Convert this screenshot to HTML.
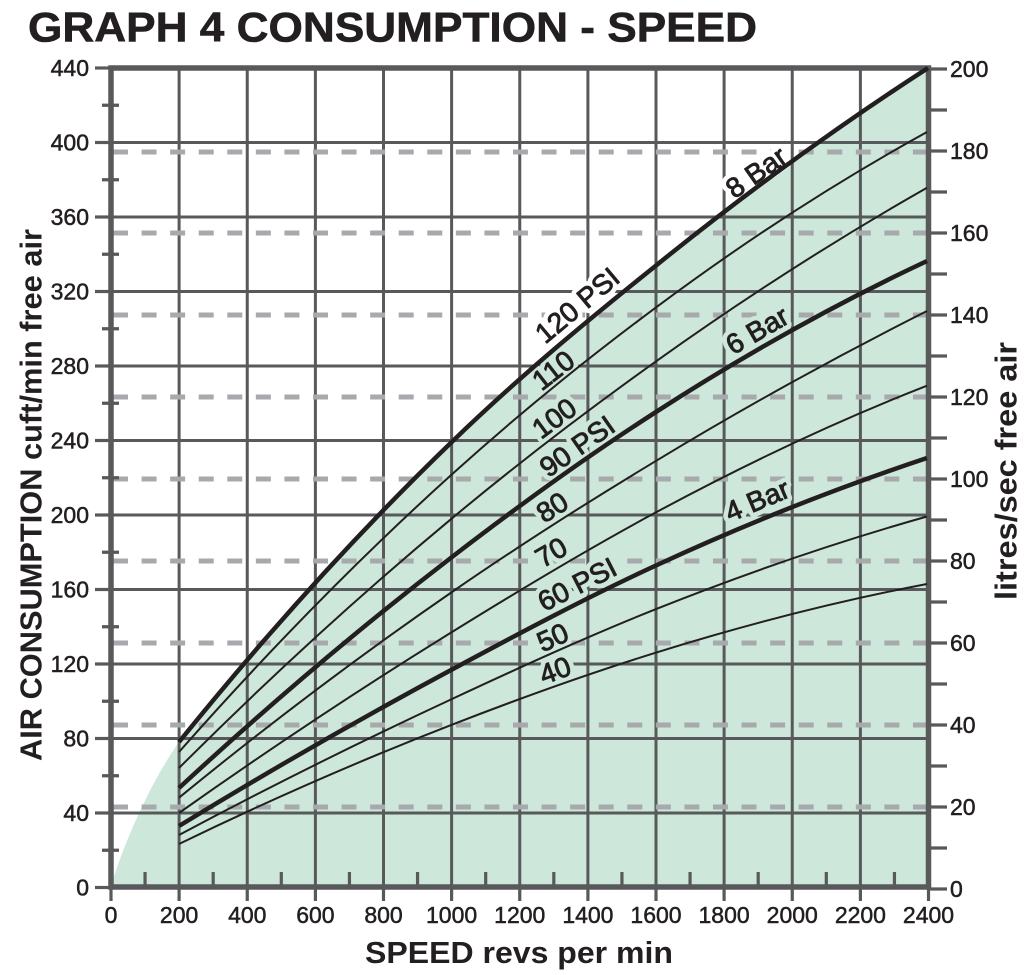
<!DOCTYPE html>
<html>
<head>
<meta charset="utf-8">
<style>
  html,body{margin:0;padding:0;background:#fff;}
  svg{display:block;}
  text{font-family:"Liberation Sans",Arial,sans-serif;fill:#231f20;}
</style>
</head>
<body>
<svg width="1029" height="975" viewBox="0 0 1029 975" xmlns="http://www.w3.org/2000/svg">
  <!-- Title -->
  <text x="28" y="41.7" font-size="42" font-weight="bold" textLength="729" lengthAdjust="spacingAndGlyphs" stroke="#231f20" stroke-width="0.6">GRAPH 4 CONSUMPTION - SPEED</text>

  <!-- Green fill -->
  <path d="M111,887 C118,860 145,790 179,742 C270,629.46 361,529.36 452,441.7 C520.33,375.64 588.67,319.58 657,264.7 C747.33,191.88 837.67,126.33 928.5,68 L928.5,887 Z" fill="#cde7da"/>

  <!-- Grid lines -->
  <g stroke="#58595b" stroke-width="3" fill="none">
    <line x1="111" x2="928.5" y1="813" y2="813"/>
    <line x1="111" x2="928.5" y1="738.5" y2="738.5"/>
    <line x1="111" x2="928.5" y1="664" y2="664"/>
    <line x1="111" x2="928.5" y1="589.5" y2="589.5"/>
    <line x1="111" x2="928.5" y1="515" y2="515"/>
    <line x1="111" x2="928.5" y1="440.5" y2="440.5"/>
    <line x1="111" x2="928.5" y1="366" y2="366"/>
    <line x1="111" x2="928.5" y1="291.5" y2="291.5"/>
    <line x1="111" x2="928.5" y1="217" y2="217"/>
    <line x1="111" x2="928.5" y1="142.5" y2="142.5"/>
    <line y1="68" y2="887" x1="179.1" x2="179.1"/>
    <line y1="68" y2="887" x1="247.25" x2="247.25"/>
    <line y1="68" y2="887" x1="315.4" x2="315.4"/>
    <line y1="68" y2="887" x1="383.5" x2="383.5"/>
    <line y1="68" y2="887" x1="451.6" x2="451.6"/>
    <line y1="68" y2="887" x1="519.75" x2="519.75"/>
    <line y1="68" y2="887" x1="587.9" x2="587.9"/>
    <line y1="68" y2="887" x1="656" x2="656"/>
    <line y1="68" y2="887" x1="724.1" x2="724.1"/>
    <line y1="68" y2="887" x1="792.25" x2="792.25"/>
    <line y1="68" y2="887" x1="860.4" x2="860.4"/>
  </g>

  <!-- Dashed litres/sec lines -->
  <g stroke="#a7a9ac" stroke-width="5" stroke-dasharray="15 13.57" fill="none">
    <line x1="113" x2="927" y1="807" y2="807"/>
    <line x1="113" x2="927" y1="725" y2="725"/>
    <line x1="113" x2="927" y1="643" y2="643"/>
    <line x1="113" x2="927" y1="561" y2="561"/>
    <line x1="113" x2="927" y1="479" y2="479"/>
    <line x1="113" x2="927" y1="397" y2="397"/>
    <line x1="113" x2="927" y1="315" y2="315"/>
    <line x1="113" x2="927" y1="233" y2="233"/>
    <line x1="113" x2="927" y1="152" y2="152"/>
  </g>

  <!-- Ticks -->
  <g stroke="#58595b" stroke-width="3.2" fill="none">
    <line x1="95" x2="111" y1="887.5" y2="887.5"/>
    <line x1="95" x2="111" y1="813" y2="813"/>
    <line x1="95" x2="111" y1="738.5" y2="738.5"/>
    <line x1="95" x2="111" y1="664" y2="664"/>
    <line x1="95" x2="111" y1="589.5" y2="589.5"/>
    <line x1="95" x2="111" y1="515" y2="515"/>
    <line x1="95" x2="111" y1="440.5" y2="440.5"/>
    <line x1="95" x2="111" y1="366" y2="366"/>
    <line x1="95" x2="111" y1="291.5" y2="291.5"/>
    <line x1="95" x2="111" y1="217" y2="217"/>
    <line x1="95" x2="111" y1="142.5" y2="142.5"/>
    <line x1="95" x2="111" y1="68" y2="68"/>
    <line x1="102" x2="119" y1="850.25" y2="850.25"/>
    <line x1="102" x2="119" y1="775.75" y2="775.75"/>
    <line x1="102" x2="119" y1="701.25" y2="701.25"/>
    <line x1="102" x2="119" y1="626.75" y2="626.75"/>
    <line x1="102" x2="119" y1="552.25" y2="552.25"/>
    <line x1="102" x2="119" y1="477.75" y2="477.75"/>
    <line x1="102" x2="119" y1="403.25" y2="403.25"/>
    <line x1="102" x2="119" y1="328.75" y2="328.75"/>
    <line x1="102" x2="119" y1="254.25" y2="254.25"/>
    <line x1="102" x2="119" y1="179.75" y2="179.75"/>
    <line x1="102" x2="119" y1="105.25" y2="105.25"/>
    <line y1="887" y2="901" x1="111" x2="111"/>
    <line y1="887" y2="901" x1="179.1" x2="179.1"/>
    <line y1="887" y2="901" x1="247.25" x2="247.25"/>
    <line y1="887" y2="901" x1="315.4" x2="315.4"/>
    <line y1="887" y2="901" x1="383.5" x2="383.5"/>
    <line y1="887" y2="901" x1="451.6" x2="451.6"/>
    <line y1="887" y2="901" x1="519.75" x2="519.75"/>
    <line y1="887" y2="901" x1="587.9" x2="587.9"/>
    <line y1="887" y2="901" x1="656" x2="656"/>
    <line y1="887" y2="901" x1="724.1" x2="724.1"/>
    <line y1="887" y2="901" x1="792.25" x2="792.25"/>
    <line y1="887" y2="901" x1="860.4" x2="860.4"/>
    <line y1="887" y2="901" x1="928.5" x2="928.5"/>
    <line y1="872" y2="887" x1="145.06" x2="145.06"/>
    <line y1="872" y2="887" x1="213.19" x2="213.19"/>
    <line y1="872" y2="887" x1="281.31" x2="281.31"/>
    <line y1="872" y2="887" x1="349.44" x2="349.44"/>
    <line y1="872" y2="887" x1="417.56" x2="417.56"/>
    <line y1="872" y2="887" x1="485.69" x2="485.69"/>
    <line y1="872" y2="887" x1="553.81" x2="553.81"/>
    <line y1="872" y2="887" x1="621.94" x2="621.94"/>
    <line y1="872" y2="887" x1="690.06" x2="690.06"/>
    <line y1="872" y2="887" x1="758.19" x2="758.19"/>
    <line y1="872" y2="887" x1="826.31" x2="826.31"/>
    <line y1="872" y2="887" x1="894.44" x2="894.44"/>
    <line x1="928.5" x2="947" y1="889" y2="889"/>
    <line x1="928.5" x2="947" y1="848" y2="848"/>
    <line x1="928.5" x2="947" y1="807" y2="807"/>
    <line x1="928.5" x2="947" y1="766" y2="766"/>
    <line x1="928.5" x2="947" y1="725" y2="725"/>
    <line x1="928.5" x2="947" y1="684" y2="684"/>
    <line x1="928.5" x2="947" y1="643" y2="643"/>
    <line x1="928.5" x2="947" y1="602" y2="602"/>
    <line x1="928.5" x2="947" y1="561" y2="561"/>
    <line x1="928.5" x2="947" y1="520" y2="520"/>
    <line x1="928.5" x2="947" y1="479" y2="479"/>
    <line x1="928.5" x2="947" y1="438" y2="438"/>
    <line x1="928.5" x2="947" y1="397" y2="397"/>
    <line x1="928.5" x2="947" y1="356" y2="356"/>
    <line x1="928.5" x2="947" y1="315" y2="315"/>
    <line x1="928.5" x2="947" y1="274" y2="274"/>
    <line x1="928.5" x2="947" y1="233" y2="233"/>
    <line x1="928.5" x2="947" y1="192" y2="192"/>
    <line x1="928.5" x2="947" y1="151" y2="151"/>
    <line x1="928.5" x2="947" y1="110" y2="110"/>
    <line x1="928.5" x2="947" y1="69" y2="69"/>
  </g>

  <!-- Frame -->
  <rect x="111" y="68" width="817.5" height="819" fill="none" stroke="#58595b" stroke-width="5.5"/>

  <!-- Curve label halos -->
  <g font-size="28" text-anchor="middle" stroke-linejoin="round">
    <g stroke="#ffffff" stroke-width="10" fill="#ffffff">
      <text transform="translate(577,305) rotate(-40)" y="10">120 PSI</text>
      <text transform="translate(756,172) rotate(-35)" y="10">8 Bar</text>
    </g>
    <g stroke="#cde7da" stroke-width="10" fill="#cde7da">
      <text transform="translate(553,370) rotate(-38)" y="10">110</text>
      <text transform="translate(554,418) rotate(-36.5)" y="10">100</text>
      <text transform="translate(577,446) rotate(-35)" y="10">90 PSI</text>
      <text transform="translate(552,507) rotate(-32.5)" y="10">80</text>
      <text transform="translate(551,552) rotate(-30)" y="10">70</text>
      <text transform="translate(577,584) rotate(-27)" y="10">60 PSI</text>
      <text transform="translate(552.5,637) rotate(-24)" y="10">50</text>
      <text transform="translate(555,670) rotate(-20)" y="10">40</text>
      <text transform="translate(757,330) rotate(-30)" y="10">6 Bar</text>
      <text transform="translate(757,500) rotate(-23)" y="10">4 Bar</text>
    </g>
  </g>
  <!-- Curve labels -->
  <g font-size="28" text-anchor="middle" stroke="#231f20" stroke-width="0.9" stroke-linejoin="round">
    <text transform="translate(577,305) rotate(-40)" y="10">120 PSI</text>
    <text transform="translate(756,172) rotate(-35)" y="10">8 Bar</text>
    <text transform="translate(553,370) rotate(-38)" y="10">110</text>
    <text transform="translate(554,418) rotate(-36.5)" y="10">100</text>
    <text transform="translate(577,446) rotate(-35)" y="10">90 PSI</text>
    <text transform="translate(552,507) rotate(-32.5)" y="10">80</text>
    <text transform="translate(551,552) rotate(-30)" y="10">70</text>
    <text transform="translate(577,584) rotate(-27)" y="10">60 PSI</text>
    <text transform="translate(552.5,637) rotate(-24)" y="10">50</text>
    <text transform="translate(555,670) rotate(-20)" y="10">40</text>
    <text transform="translate(757,330) rotate(-30)" y="10">6 Bar</text>
    <text transform="translate(757,500) rotate(-23)" y="10">4 Bar</text>
  </g>

  <!-- Curves -->
  <g fill="none" stroke="#231f20" stroke-linecap="butt">
    <path stroke-width="4.5" d="M179,742 C270,629.46 361,529.36 452,441.7 C520.33,375.64 588.67,319.58 657,264.7 C747.33,191.88 837.67,126.33 928,68"/>
    <path stroke-width="2" d="M179,752 C270,648.91 361,556.36 452,474.3 C520.33,412.46 588.67,357.42 657,306.7 C747.33,239.4 837.67,181.17 927,132"/>
    <path stroke-width="2" d="M179,768 C270,677.05 361,593.82 452,518.3 C520.33,461.39 588.67,409.33 657,360.7 C747.33,296.17 837.67,238.5 927,187.7"/>
    <path stroke-width="4.5" d="M179,788 C270,703.83 361,626.84 452,557 C520.33,504.37 588.67,455.22 657,411.3 C747.33,353.02 837.67,302.93 927,261"/>
    <path stroke-width="2" d="M179,797.7 C270,723.23 361,654.68 452,592 C520.33,544.76 588.67,501.45 657,460.3 C747.33,405.7 837.67,355.94 927,311"/>
    <path stroke-width="2" d="M179,813 C270,748.58 361,688.24 452,632 C520.33,589.61 588.67,548.45 657,511.8 C747.33,463.17 837.67,420.59 927,385.7"/>
    <path stroke-width="4.5" d="M179,826 C270,770.44 361,718.28 452,669.5 C520.33,632.74 588.67,596.42 657,565 C747.33,523.31 837.67,487.65 927,458"/>
    <path stroke-width="2" d="M179,835 C270,786.59 361,741.26 452,699 C520.33,667.15 588.67,635.88 657,608.7 C747.33,572.64 837.67,541.74 927,516.5"/>
    <path stroke-width="2" d="M179,844 C270,799.82 361,760.05 452,724.7 C520.33,698.06 588.67,673.54 657,652.3 C747.33,624.11 837.67,601.02 927,584"/>
  </g>

  <!-- Left tick labels -->
  <g font-size="23" text-anchor="end" stroke="#231f20" stroke-width="0.5">
    <text x="89" y="895.5">0</text>
    <text x="89" y="821">40</text>
    <text x="89" y="746.5">80</text>
    <text x="89" y="672">120</text>
    <text x="89" y="597.5">160</text>
    <text x="89" y="523">200</text>
    <text x="89" y="448.5">240</text>
    <text x="89" y="374">280</text>
    <text x="89" y="299.5">320</text>
    <text x="89" y="225">360</text>
    <text x="89" y="150.5">400</text>
    <text x="89" y="76">440</text>
  </g>

  <!-- Right tick labels -->
  <g font-size="23" text-anchor="start" stroke="#231f20" stroke-width="0.5">
    <text x="950" y="897">0</text>
    <text x="950" y="815">20</text>
    <text x="950" y="733">40</text>
    <text x="950" y="651">60</text>
    <text x="950" y="569">80</text>
    <text x="950" y="487">100</text>
    <text x="950" y="405">120</text>
    <text x="950" y="323">140</text>
    <text x="950" y="241">160</text>
    <text x="950" y="159">180</text>
    <text x="950" y="77">200</text>
  </g>

  <!-- Bottom tick labels -->
  <g font-size="23" text-anchor="middle" stroke="#231f20" stroke-width="0.5">
    <text x="111" y="923">0</text>
    <text x="179.1" y="923">200</text>
    <text x="247.25" y="923">400</text>
    <text x="315.4" y="923">600</text>
    <text x="383.5" y="923">800</text>
    <text x="451.6" y="923">1000</text>
    <text x="519.75" y="923">1200</text>
    <text x="587.9" y="923">1400</text>
    <text x="656" y="923">1600</text>
    <text x="724.1" y="923">1800</text>
    <text x="792.25" y="923">2000</text>
    <text x="860.4" y="923">2200</text>
    <text x="928.5" y="923">2400</text>
  </g>

  <!-- Axis titles -->
  <text x="365" y="963" font-size="31" font-weight="bold" textLength="308" lengthAdjust="spacingAndGlyphs">SPEED revs per min</text>
  <text transform="translate(41.7,761) rotate(-90)" font-size="31" font-weight="bold" textLength="532" lengthAdjust="spacingAndGlyphs">AIR CONSUMPTION cuft/min free air</text>
  <text transform="translate(1016.7,600) rotate(-90)" font-size="31" font-weight="bold" textLength="258" lengthAdjust="spacingAndGlyphs">litres/sec free air</text>
</svg>
</body>
</html>
